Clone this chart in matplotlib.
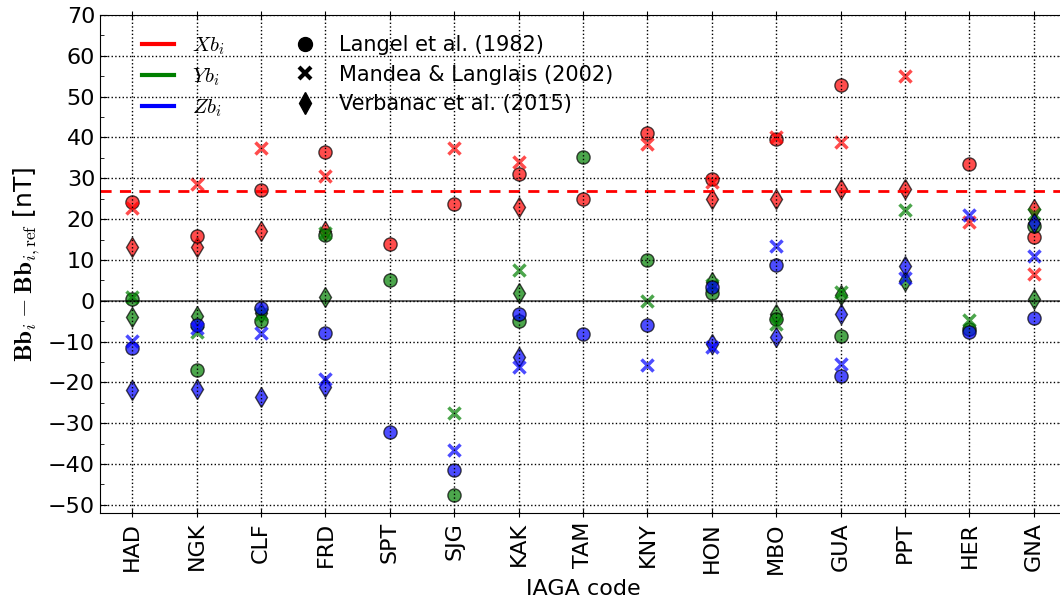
import numpy as np
import matplotlib
matplotlib.use('Agg')
import matplotlib.pyplot as plt
from matplotlib.lines import Line2D
from matplotlib.ticker import MultipleLocator

plt.rcParams['mathtext.fontset'] = 'cm'
plt.rcParams['font.family'] = 'DejaVu Sans'

nan = np.nan
stations = ['HAD', 'NGK', 'CLF', 'FRD', 'SPT', 'SJG', 'KAK', 'TAM',
            'KNY', 'HON', 'MBO', 'GUA', 'PPT', 'HER', 'GNA']

# Langel et al. (1982)
langel_x = [24.2, 15.8, 27.1, 36.5, 13.9, 23.8, 31.1, 24.9, 41.0, 29.8, 39.5, 52.9, nan, 33.5, 15.7]
langel_y = [0.5, -17.0, -4.9, 16.0, 5.1, -47.5, -4.9, 35.1, 10.0, 2.0, -4.5, -8.6, nan, -6.9, 18.4]
langel_z = [-11.6, -6.0, -1.9, -8.0, -32.2, -41.4, -3.3, -8.1, -5.9, 3.3, 8.8, -18.4, nan, -7.7, -4.2]

# Mandea & Langlais (2002)
mandea_x = [22.6, 28.7, 37.4, 30.6, nan, 37.4, 34.0, nan, 38.4, 29.2, 40.0, 38.9, 55.1, 19.3, 6.5]
mandea_y = [0.8, -7.6, -3.3, 16.5, nan, -27.5, 7.6, nan, 0.0, 3.8, -5.7, 2.2, 22.3, -4.6, 21.2]
mandea_z = [-9.8, -6.8, -8.0, -19.2, nan, -36.5, -16.2, nan, -15.7, -11.4, 13.3, -15.5, 5.5, 21.0, 10.9]

# Verbanac et al. (2015)
verb_x = [13.1, 13.1, 17.1, 17.0, nan, nan, 22.9, nan, nan, 24.9, 24.9, 27.3, 27.3, nan, 22.4]
verb_y = [-4.1, -3.7, -3.0, 0.8, nan, nan, 2.0, nan, nan, 4.7, -3.3, 1.5, 4.9, nan, 0.4]
verb_z = [-21.8, -21.6, -23.6, -21.2, nan, nan, -13.9, nan, nan, -10.6, -9.0, -3.3, 8.6, nan, 19.0]

mean_x = 26.8

idx = np.arange(len(stations))

fig = plt.figure(figsize=(10.6, 6.02), dpi=100)
ax = fig.add_axes([100/1060, 1-513/602, 966/1060, 498/602])

comps = [('r', langel_x, mandea_x, verb_x),
         ('g', langel_y, mandea_y, verb_y),
         ('b', langel_z, mandea_z, verb_z)]

for col, lx, mx, vx in comps:
    ax.plot(idx, vx, ls='none', marker='d', ms=10, mfc=col, mec='k', mew=1.0, alpha=0.7)
    ax.plot(idx, lx, ls='none', marker='o', ms=9.5, mfc=col, mec='k', mew=1.0, alpha=0.7)
    ax.plot(idx, mx, ls='none', marker='x', ms=9, mec=col, mew=2.5, alpha=0.7)

ax.axhline(0, color='k', lw=1.2, alpha=0.7)
ax.axhline(mean_x, color='r', lw=2, ls=(0, (4, 3)))

ax.set_xlim(-0.5, len(stations) - 0.5)
ax.set_ylim(-52, 70)
ax.set_xticks(idx)
ax.set_xticklabels(stations, rotation=90, fontsize=16)
ax.yaxis.set_major_locator(MultipleLocator(10))
ax.yaxis.set_minor_locator(MultipleLocator(5))
ax.tick_params(axis='y', which='both', direction='in', labelsize=16, left=True, right=True)
ax.tick_params(axis='y', which='major', length=5)
ax.tick_params(axis='y', which='minor', length=3)
ax.tick_params(axis='x', direction='inout', length=6, top=True)
ax.grid(True, color='k', ls=':', lw=1)
ax.set_axisbelow(False)

ax.set_xlabel('IAGA code', fontsize=16)
ax.set_ylabel(r'$\mathbf{Bb}_i - \mathbf{Bb}_{i,\mathrm{ref}}$ [nT]', fontsize=18)

handles = [Line2D([], [], color='r', lw=3),
           Line2D([], [], color='g', lw=3),
           Line2D([], [], color='b', lw=3),
           Line2D([], [], ls='none', marker='o', color='k', ms=10),
           Line2D([], [], ls='none', marker='x', color='k', ms=9, mew=3),
           Line2D([], [], ls='none', marker='d', color='k', ms=11)]
labels = [r'$Xb_i$', r'$Yb_i$', r'$Zb_i$',
          'Langel et al. (1982)', 'Mandea & Langlais (2002)', 'Verbanac et al. (2015)']
ax.legend(handles, labels, ncol=2, frameon=False, fontsize=15, loc='upper left',
          bbox_to_anchor=(0.024, 0.997), handlelength=1.55, handletextpad=0.85,
          columnspacing=3.1, labelspacing=0.45)

fig.savefig('out.png', dpi=100)
